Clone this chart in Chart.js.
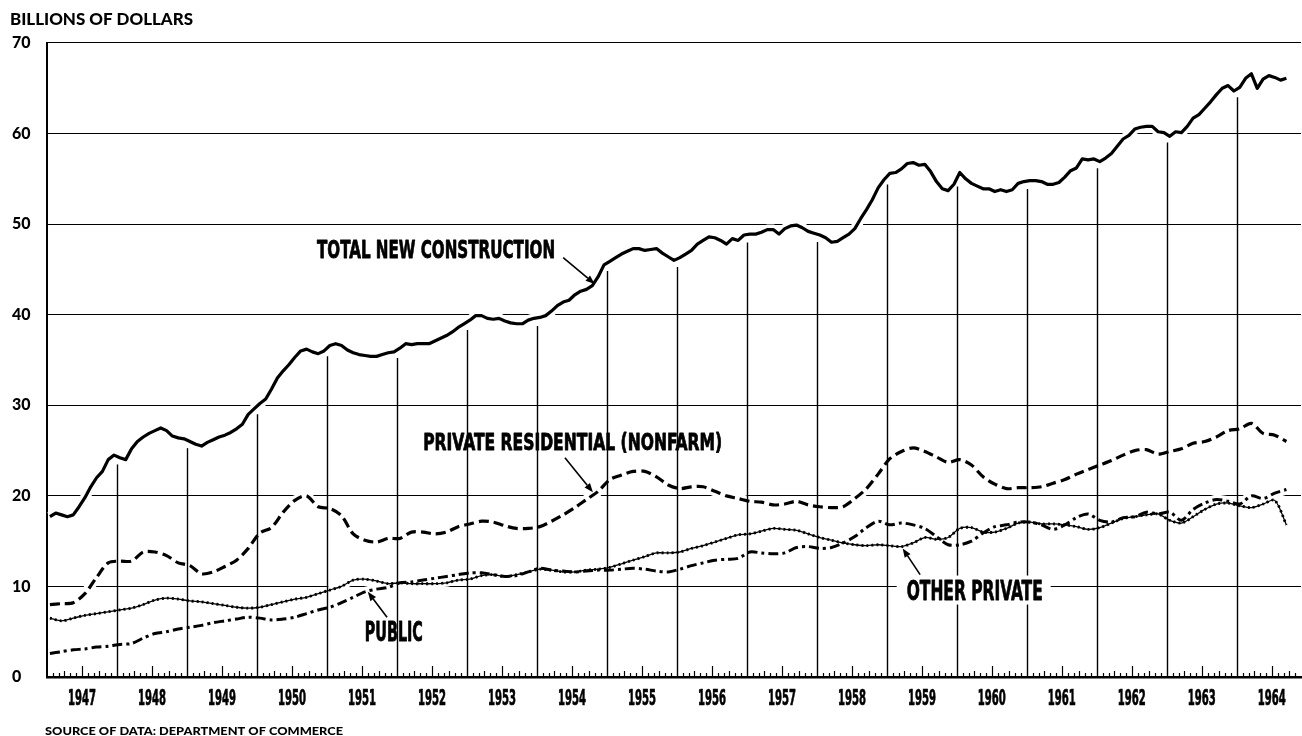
<!DOCTYPE html>
<html>
<head>
<meta charset="utf-8">
<script src="https://cdn.jsdelivr.net/npm/chart.js@4.4.1/dist/chart.umd.min.js"></script>
<style>
  html, body { margin: 0; padding: 0; background: #ffffff; }
  canvas { display: block; }
</style>
</head>
<body>
<canvas id="chart" width="1302" height="736"></canvas>
<script>
// ---------------- DATA ----------------
const startYear = 1947;
const yearLabels = ['1947','1948','1949','1950','1951','1952','1953','1954','1955',
                    '1956','1957','1958','1959','1960','1961','1962','1963','1964'];
const yTickValues = [0, 10, 20, 30, 40, 50, 60, 70];
const yAxisTitle = 'BILLIONS OF DOLLARS';
const sourceNote = 'SOURCE OF DATA: DEPARTMENT OF COMMERCE';

// Total new construction, monthly, Jan 1947 .. Sep 1964 (billions of dollars, annual rate)
const totalNewConstruction = [
  17.7, 18.1, 17.9, 17.7, 17.9, 18.8, 19.8, 21.0, 22.0, 22.7, 24.0, 24.5, // 1947
  24.2, 24.0, 25.2, 26.0, 26.5, 26.9, 27.2, 27.5, 27.2, 26.6, 26.4, 26.3, // 1948
  26.0, 25.7, 25.5, 25.9, 26.2, 26.5, 26.7, 27.0, 27.4, 27.9, 29.0, 29.6, // 1949
  30.2, 30.7, 31.8, 33.0, 33.8, 34.5, 35.3, 36.0, 36.2, 35.9, 35.7, 36.0, // 1950
  36.6, 36.8, 36.6, 36.1, 35.8, 35.6, 35.5, 35.4, 35.4, 35.6, 35.8, 35.9, // 1951
  36.3, 36.8, 36.7, 36.8, 36.8, 36.8, 37.1, 37.4, 37.7, 38.1, 38.6, 39.0, // 1952
  39.4, 39.9, 39.9, 39.6, 39.5, 39.6, 39.3, 39.1, 39.0, 39.0, 39.4, 39.6, // 1953
  39.7, 39.9, 40.4, 41.0, 41.4, 41.6, 42.2, 42.6, 42.8, 43.2, 44.2, 45.5, // 1954
  45.9, 46.3, 46.7, 47.0, 47.3, 47.3, 47.1, 47.2, 47.3, 46.8, 46.4, 46.0, // 1955
  46.3, 46.7, 47.1, 47.8, 48.2, 48.6, 48.5, 48.2, 47.8, 48.4, 48.2, 48.8, // 1956
  48.9, 48.9, 49.1, 49.4, 49.4, 48.9, 49.5, 49.8, 49.9, 49.6, 49.2, 49.0, // 1957
  48.8, 48.5, 48.0, 48.1, 48.5, 48.9, 49.5, 50.6, 51.6, 52.7, 54.0, 54.9, // 1958
  55.6, 55.7, 56.1, 56.7, 56.8, 56.5, 56.6, 55.8, 54.7, 53.9, 53.7, 54.4, // 1959
  55.7, 55.0, 54.5, 54.2, 53.9, 53.9, 53.6, 53.8, 53.6, 53.8, 54.5, 54.7, // 1960
  54.8, 54.8, 54.7, 54.4, 54.4, 54.6, 55.2, 55.9, 56.2, 57.2, 57.1, 57.2, // 1961
  56.9, 57.3, 57.8, 58.6, 59.4, 59.8, 60.5, 60.7, 60.8, 60.8, 60.2, 60.1, // 1962
  59.7, 60.2, 60.1, 60.8, 61.7, 62.1, 62.8, 63.5, 64.3, 65.0, 65.3, 64.7, // 1963
  65.1, 66.1, 66.6, 65.0, 66.0, 66.4, 66.2, 65.9, 66.1                    // 1964
];

// Other series, every second month (Jan, Mar, May, Jul, Sep, Nov), Jan 1947 .. Sep 1964
const privateResidential = [
  8.0, 8.1, 8.2, 9.2, 11.0, 12.6,     // 1947
  12.8, 12.8, 13.8, 13.8, 13.4, 12.6, // 1948
  12.3, 11.4, 11.6, 12.2, 12.9, 14.2, // 1949
  15.9, 16.5, 18.2, 19.5, 20.0, 18.8, // 1950
  18.6, 17.8, 15.8, 15.1, 14.9, 15.3, // 1951
  15.3, 16.0, 16.0, 15.8, 16.0, 16.6, // 1952
  16.9, 17.2, 17.1, 16.7, 16.4, 16.4, // 1953
  16.6, 17.2, 17.9, 18.7, 19.6, 20.5, // 1954
  21.8, 22.3, 22.7, 22.7, 22.1, 21.2, // 1955
  20.8, 21.0, 21.0, 20.5, 20.0, 19.7, // 1956
  19.4, 19.3, 19.0, 19.1, 19.4, 19.0, // 1957
  18.8, 18.7, 18.8, 19.7, 20.8, 22.4, // 1958
  24.1, 24.9, 25.3, 24.9, 24.3, 23.7, // 1959
  24.0, 23.4, 22.1, 21.3, 20.8, 20.9, // 1960
  20.9, 21.0, 21.4, 21.8, 22.4, 22.9, // 1961
  23.4, 23.9, 24.5, 25.0, 25.1, 24.6, // 1962
  24.9, 25.2, 25.8, 26.0, 26.5, 27.2, // 1963
  27.4, 28.0, 26.9, 26.7, 26.0        // 1964
];
const otherPrivate = [
  6.5, 6.2, 6.5, 6.8, 7.0, 7.2,       // 1947
  7.4, 7.6, 8.0, 8.5, 8.7, 8.6,       // 1948
  8.4, 8.3, 8.1, 7.9, 7.7, 7.6,       // 1949
  7.7, 8.0, 8.3, 8.6, 8.8, 9.2,       // 1950
  9.6, 10.0, 10.7, 10.8, 10.6, 10.3,  // 1951
  10.4, 10.3, 10.3, 10.3, 10.4, 10.7, // 1952
  10.8, 11.2, 11.3, 11.1, 11.3, 11.6, // 1953
  11.9, 11.8, 11.6, 11.6, 11.8, 11.9, // 1954
  12.1, 12.5, 12.9, 13.3, 13.7, 13.7, // 1955
  13.8, 14.2, 14.5, 14.9, 15.3, 15.7, // 1956
  15.8, 16.1, 16.4, 16.3, 16.2, 15.8, // 1957
  15.4, 15.1, 14.8, 14.6, 14.5, 14.6, // 1958
  14.5, 14.4, 14.8, 15.4, 15.2, 15.4, // 1959
  16.4, 16.5, 16.0, 16.0, 16.4, 17.0, // 1960
  17.1, 16.9, 16.9, 16.8, 16.6, 16.3, // 1961
  16.5, 17.0, 17.5, 17.7, 17.9, 18.0, // 1962
  17.3, 17.0, 17.7, 18.5, 19.1, 19.2, // 1963
  18.9, 18.7, 19.1, 19.5, 16.8        // 1964
];
const publicConstruction = [
  2.6, 2.8, 3.0, 3.1, 3.3, 3.4,       // 1947
  3.6, 3.7, 4.3, 4.8, 5.0, 5.3,       // 1948
  5.5, 5.7, 6.0, 6.2, 6.4, 6.6,       // 1949
  6.5, 6.3, 6.4, 6.6, 7.0, 7.4,       // 1950
  7.7, 8.2, 8.8, 9.4, 9.7, 9.9,       // 1951
  10.4, 10.5, 10.7, 10.9, 11.1, 11.3, // 1952
  11.5, 11.5, 11.3, 11.1, 11.2, 11.6, // 1953
  12.0, 11.8, 11.7, 11.6, 11.7, 11.8, // 1954
  11.8, 11.9, 12.0, 11.9, 11.7, 11.6, // 1955
  11.9, 12.3, 12.6, 12.9, 13.0, 13.1, // 1956
  13.8, 13.7, 13.6, 13.7, 14.3, 14.4, // 1957
  14.2, 14.3, 14.8, 15.5, 16.5, 17.2, // 1958
  16.8, 17.0, 16.8, 16.4, 15.5, 14.6, // 1959
  14.6, 15.0, 15.9, 16.6, 16.8, 17.1, // 1960
  17.1, 16.8, 16.3, 16.8, 17.6, 18.0, // 1961
  17.3, 17.1, 17.6, 17.7, 18.2, 18.0, // 1962
  18.2, 17.3, 18.5, 19.2, 19.6, 19.4, // 1963
  19.1, 20.0, 19.7, 20.3, 20.7        // 1964
];

// Series labels (text) with their anchor in data coordinates (months since Jan 1947, value)
const seriesLabels = [
  { text: 'TOTAL NEW CONSTRUCTION',        m: 46.3,  v: 47.3, cap: 18, width: 238,
    arrow: [88.5, 46.3, 93.9, 43.4] },
  { text: 'PRIVATE RESIDENTIAL (NONFARM)', m: 64.5,  v: 26.0, cap: 17, width: 299,
    arrow: [88.8, 24.2, 93.6, 20.4] },
  { text: 'PUBLIC',                        m: 54.5,  v: 5.0,  cap: 19, width: 58,
    arrow: [58.3, 6.6, 55.0, 9.4] },
  { text: 'OTHER PRIVATE',                 m: 147.4, v: 9.6,  cap: 19, width: 136, knockout: true,
    arrow: [149.7, 11.3, 146.7, 14.2] }
];

// ---------------- HELPERS ----------------
const monthly = vals => vals.map((v, i) => ({ x: i + 0.5, y: v }));
const everyTwoMonths = vals => vals.map((v, i) => ({ x: 2 * i + 0.5, y: v }));

const NARROW = '"Liberation Sans Narrow", "DejaVu Sans Condensed", "Liberation Sans", sans-serif';
const GEOM = 'Lato, "Open Sans", "DejaVu Sans", sans-serif';

function fitText(ctx, text, left, baseline, cap, width, family, weight, stroke) {
  const size = cap / 0.72;
  ctx.font = (weight || 'bold') + ' ' + size.toFixed(2) + 'px ' + family;
  const w = ctx.measureText(text).width;
  ctx.save();
  ctx.translate(left, baseline);
  ctx.scale(width / w, 1);
  ctx.textAlign = 'left';
  ctx.textBaseline = 'alphabetic';
  ctx.fillStyle = '#000';
  ctx.fillText(text, 0, 0);
  if (stroke) {
    ctx.strokeStyle = '#000';
    ctx.lineWidth = stroke;
    ctx.lineJoin = 'round';
    ctx.strokeText(text, 0, 0);
  }
  ctx.restore();
}

function drawArrow(ctx, x1, y1, x2, y2) {
  ctx.save();
  ctx.strokeStyle = '#000';
  ctx.fillStyle = '#000';
  ctx.lineWidth = 1.6;
  const a = Math.atan2(y2 - y1, x2 - x1);
  const len = 9, hw = 3.5;
  const bx = x2 - len * Math.cos(a), by = y2 - len * Math.sin(a);
  ctx.beginPath(); ctx.moveTo(x1, y1); ctx.lineTo(bx, by); ctx.stroke();
  ctx.beginPath();
  ctx.moveTo(x2, y2);
  ctx.lineTo(bx + hw * Math.sin(a), by - hw * Math.cos(a));
  ctx.lineTo(bx - hw * Math.sin(a), by + hw * Math.cos(a));
  ctx.closePath(); ctx.fill();
  ctx.restore();
}

function drawYearLines(chart) {
  const { ctx, scales: { x, y } } = chart;
  ctx.save();
  ctx.strokeStyle = '#000';
  ctx.lineWidth = 1.4;
  for (let k = 1; k < yearLabels.length; k++) {
    const m = 12 * k;
    const tv = (totalNewConstruction[m - 1] + totalNewConstruction[m]) / 2;
    const px = Math.round(x.getPixelForValue(m)) + 0.5;
    const top = y.getPixelForValue(tv) + 8;
    ctx.beginPath();
    ctx.moveTo(px, y.getPixelForValue(0));
    ctx.lineTo(px, top);
    ctx.stroke();
  }
  ctx.restore();
}

const decorPlugin = {
  id: 'decor',
  afterDatasetDraw(chart, args) {
    const ds = chart.data.datasets[args.index];
    if (ds.yearLinesAfter) drawYearLines(chart);
  },
  afterDraw(chart) {
    const { ctx, scales: { x, y } } = chart;
    const y0 = y.getPixelForValue(0);
    // monthly tick marks rising from the baseline
    ctx.save();
    ctx.strokeStyle = '#000';
    ctx.lineWidth = 1.2;
    for (let m = 1; m < 215; m++) {
      if (m % 12 === 0) continue;
      const h = (m % 12 === 6) ? 11 : (m % 3 === 0 ? 6 : 4);
      const px = Math.round(x.getPixelForValue(m)) + 0.5;
      ctx.beginPath(); ctx.moveTo(px, y0); ctx.lineTo(px, y0 - h); ctx.stroke();
    }
    ctx.restore();

    // year labels, centred on mid-year
    yearLabels.forEach((lab, i) => {
      const cx = x.getPixelForValue(12 * i + 6);
      fitText(ctx, lab, cx - 14, y0 + 28, 15, 28, NARROW, 'bold', 0.7);
    });

    // axis title and source
    fitText(ctx, yAxisTitle, 10, 25, 12, 183, GEOM, '900');
    fitText(ctx, sourceNote, 45, 735, 8, 298, GEOM, '900');

    // series labels and arrows
    seriesLabels.forEach(s => {
      const left = x.getPixelForValue(s.m);
      const cy = y.getPixelForValue(s.v);
      if (s.knockout) {
        ctx.save(); ctx.fillStyle = '#fff';
        ctx.fillRect(left - 10, cy - s.cap / 2 - 5, s.width + 18, s.cap + 10);
        ctx.restore();
      }
      fitText(ctx, s.text, left, cy + s.cap / 2, s.cap, s.width, NARROW, 'bold', 0.8);
      const [m1, v1, m2, v2] = s.arrow;
      drawArrow(ctx, x.getPixelForValue(m1), y.getPixelForValue(v1),
                     x.getPixelForValue(m2), y.getPixelForValue(v2));
    });
  }
};

// ---------------- DATASETS ----------------
function halo(data, width, order, extra) {
  return Object.assign({
    data, borderColor: '#ffffff', borderWidth: width, pointRadius: 0,
    tension: 0, order, borderCapStyle: 'butt', borderJoinStyle: 'round'
  }, extra || {});
}

const datasets = [
  halo(monthly(totalNewConstruction), 10, 14),
  halo(everyTwoMonths(privateResidential), 10, 13),
  halo(everyTwoMonths(otherPrivate), 8, 12),
  halo(everyTwoMonths(publicConstruction), 10, 11, { yearLinesAfter: true }),
  {
    label: 'Total new construction', data: monthly(totalNewConstruction),
    borderColor: '#000', borderWidth: 3.2, pointRadius: 0, tension: 0, order: 4,
    borderJoinStyle: 'round'
  },
  {
    label: 'Private residential (nonfarm)', data: everyTwoMonths(privateResidential),
    borderColor: '#000', borderWidth: 3.2, borderDash: [10, 5], pointRadius: 0,
    tension: 0.3, order: 3
  },
  {
    label: 'Other private', data: everyTwoMonths(otherPrivate),
    borderColor: '#000', borderWidth: 1.3, pointRadius: 0, tension: 0.3, order: 2
  },
  {
    label: 'Other private beads', data: everyTwoMonths(otherPrivate),
    borderColor: '#000', borderWidth: 2.8, borderDash: [2, 3], pointRadius: 0,
    tension: 0.3, order: 1
  },
  {
    label: 'Public', data: everyTwoMonths(publicConstruction),
    borderColor: '#000', borderWidth: 3, borderDash: [10, 4, 3, 4], pointRadius: 0,
    tension: 0.3, order: 0
  }
];

new Chart(document.getElementById('chart'), {
  type: 'line',
  data: { datasets },
  plugins: [decorPlugin],
  options: {
    responsive: false,
    animation: false,
    devicePixelRatio: 1,
    layout: { padding: { top: 43, right: 1, bottom: 59, left: 12 } },
    plugins: { legend: { display: false }, tooltip: { enabled: false } },
    scales: {
      x: {
        type: 'linear', min: 0, max: 215,
        ticks: { display: false },
        grid: { display: true, color: 'rgba(0,0,0,0)', drawTicks: false },
        border: { display: true, color: '#000', width: 2.5 },
        afterFit: s => { s.height = 0; }
      },
      y: {
        min: 0, max: 70,
        afterBuildTicks: s => { s.ticks = yTickValues.map(v => ({ value: v })); },
        ticks: {
          color: '#000', crossAlign: 'far', padding: 0,
          font: { family: GEOM, weight: '900', size: 16 }
        },
        grid: { color: '#000', lineWidth: 1.1, drawTicks: false },
        border: { display: true, color: '#000', width: 2 },
        afterFit: s => { s.width = 35; }
      }
    }
  }
});
</script>
</body>
</html>
